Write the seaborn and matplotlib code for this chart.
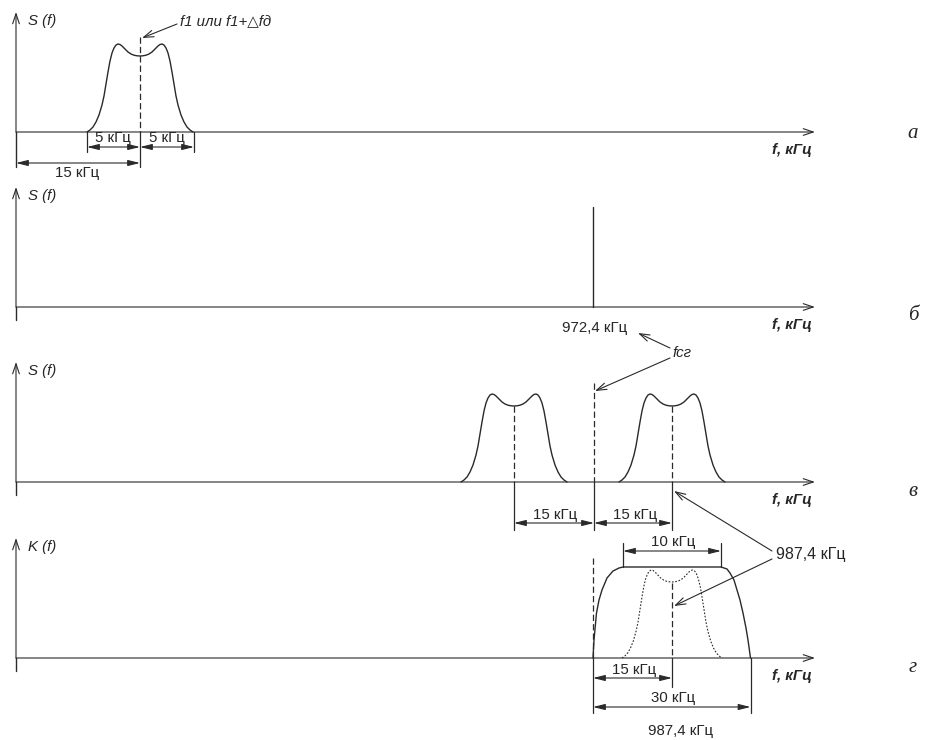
import numpy as np
import pandas as pd
import matplotlib
matplotlib.use("Agg")
import matplotlib.pyplot as plt
import seaborn as sns

sns.set_theme(style="white")
plt.rcParams['font.family'] = ['Liberation Sans', 'DejaVu Sans']

# drawing is in sheet units (1 unit = 1 px of the 930x740 sheet)
panel_names = ["а", "б", "в", "г"]
panel_ylabels = ["S (f)", "S (f)", "S (f)", "K (f)"]
baselines = [132, 307, 482, 658]
axis_x0 = 16
axis_x1 = 815

# half profile of the signal spectrum (offset from centre, height)
hump_dx = [-53, -50, -47, -44, -41, -38, -36, -34, -32, -30, -28, -26, -24, -22,
           -20, -18, -16, -14, -12, -9, -6, -3, 0]
hump_h = [0, 2, 5, 10, 17, 27, 36, 48, 60, 71, 79, 84, 87, 88,
          87.5, 86, 84, 82, 80, 78, 76.8, 76.2, 76]

# filter response K(f) (position, height)
filt_x = [593, 594, 596.5, 599, 602, 607, 613, 619, 623, 721, 727, 730, 734, 737, 740, 743, 746, 748, 750.5]
filt_h = [0, 18, 45, 58, 68, 80, 87, 90, 91, 91, 89, 85, 78, 68, 58, 45, 30, 18, 0]

# spectrum centres
centre_a = 140
centres_v = [514, 672]
centre_g = 672
f_geterodin = 593
carrier_h = 100

dim_labels = ["5 кГц", "15 кГц", "10 кГц", "30 кГц"]
freq_labels = ["972,4 кГц", "987,4 кГц"]

line_c = "#2a2a2a"
lw = 1.0
fs = 10.8


def hump(center, scale=1.0):
    dx = np.array(hump_dx) * scale
    h = np.array(hump_h)
    x = np.concatenate([center + dx, center - dx[::-1][1:]])
    y = np.concatenate([h, h[::-1][1:]])
    return x, y


def dim(ax, x0, x1, y, head="<|-|>"):
    ax.annotate("", xy=(x1, y), xytext=(x0, y),
                arrowprops=dict(arrowstyle=head + ",head_length=0.6,head_width=0.15",
                                color=line_c, lw=0.8, shrinkA=0, shrinkB=0))


def pointer(ax, x0, y0, x1, y1):
    ax.annotate("", xy=(x1, y1), xytext=(x0, y0),
                arrowprops=dict(arrowstyle="->,head_length=0.6,head_width=0.2",
                                color=line_c, lw=0.8, shrinkA=0, shrinkB=0))


def vline(ax, x, y0, y1, ls="-"):
    ax.plot([x, x], [y0, y1], color=line_c, lw=0.9, ls=ls,
            dashes=(5, 2.5) if ls == "--" else (None, None))


fig = plt.figure(figsize=(9.3, 7.4), dpi=100)
ax = fig.add_axes([0, 0, 1, 1])
ax.set_xlim(0, 930)
ax.set_ylim(740, 0)
ax.axis("off")

for i, b in enumerate(baselines):
    # axes of every panel
    bottom = b + 35 if i == 0 else b + 13
    ax.plot([axis_x0, axis_x0], [bottom, b], color=line_c, lw=lw)
    pointer(ax, axis_x0, b, axis_x0, b - 120)
    pointer(ax, axis_x0, b, axis_x1, b)
    ax.text(28, b - 111, panel_ylabels[i], fontsize=fs, style="italic", va="center", ha="left")
    ax.text(792, b + 18, "f, кГц", fontsize=fs, style="italic", weight="bold",
            va="center", ha="center")
    ax.text(913, b + 1 if i == 0 else b + 9, panel_names[i], fontsize=15, style="italic",
            family=["Liberation Serif", "DejaVu Serif"], va="center", ha="center")

# panel а
b = baselines[0]
x, h = hump(centre_a)
sns.lineplot(x=x, y=b - h, ax=ax, color=line_c, lw=lw, sort=False, estimator=None)
vline(ax, centre_a, b - 95, b, "--")
vline(ax, centre_a, b, b + 35)
vline(ax, centre_a - 53, b, b + 20)
vline(ax, centre_a + 54, b, b + 20)
dim(ax, centre_a - 53, centre_a, b + 15)
dim(ax, centre_a, centre_a + 54, b + 15)
dim(ax, axis_x0, centre_a, b + 31)
ax.text(113, b + 6, dim_labels[0], fontsize=fs, ha="center", va="center")
ax.text(167, b + 6, dim_labels[0], fontsize=fs, ha="center", va="center")
ax.text(77, b + 41, dim_labels[1], fontsize=fs, ha="center", va="center")
ax.text(180, 21, "f1 или f1+△fд", fontsize=fs, style="italic", ha="left", va="center")
pointer(ax, 177, 24, 142, 38)

# panel б
b = baselines[1]
ax.plot([f_geterodin, f_geterodin], [b, b - carrier_h], color=line_c, lw=lw)
ax.text(595, b + 21, freq_labels[0], fontsize=fs, ha="center", va="center")
ax.text(672, b + 46, "fсг", fontsize=fs, style="italic", ha="left", va="center")
pointer(ax, 670, b + 41, 638, b + 26)
pointer(ax, 670, b + 51, 595, b + 84)

# panel в
b = baselines[2]
for c in centres_v:
    x, h = hump(c)
    sns.lineplot(x=x, y=b - h, ax=ax, color=line_c, lw=lw, sort=False, estimator=None)
    vline(ax, c, b - 76, b, "--")
    vline(ax, c, b, b + 48)
vline(ax, f_geterodin + 1, b - 99, b, "--")
vline(ax, f_geterodin + 1, b, b + 48)
dim(ax, centres_v[0], f_geterodin + 1, b + 41)
dim(ax, f_geterodin + 1, centres_v[1], b + 41)
ax.text(555, b + 33, dim_labels[1], fontsize=fs, ha="center", va="center")
ax.text(635, b + 33, dim_labels[1], fontsize=fs, ha="center", va="center")

# panel г
b = baselines[3]
sns.lineplot(x=filt_x, y=b - np.array(filt_h), ax=ax, color=line_c, lw=lw,
             sort=False, estimator=None)
x, h = hump(centre_g, 50 / 53)
ax.plot(x, b - h, color=line_c, lw=0.8, ls=(0, (1.5, 1.5)))
vline(ax, centre_g, b - 75, b, "--")
vline(ax, centre_g, b, b + 29)
vline(ax, f_geterodin, b - 100, b, "--")
vline(ax, f_geterodin, b, b + 55)
vline(ax, filt_x[-1], b, b + 55)
vline(ax, filt_x[8], b - 91, b - 115)
vline(ax, filt_x[9], b - 91, b - 115)
dim(ax, filt_x[8], filt_x[9], b - 107)
dim(ax, f_geterodin, centre_g, b + 20)
dim(ax, f_geterodin, filt_x[-1], b + 49)
ax.text(673, b - 116, dim_labels[2], fontsize=fs, ha="center", va="center")
ax.text(634, b + 12, dim_labels[1], fontsize=fs, ha="center", va="center")
ax.text(673, b + 40, dim_labels[3], fontsize=fs, ha="center", va="center")
ax.text(681, b + 73, freq_labels[1], fontsize=fs, ha="center", va="center")
ax.text(776, b - 104, freq_labels[1], fontsize=11.5, ha="left", va="center")
pointer(ax, 772, b - 107, 674, baselines[2] + 9)
pointer(ax, 772, b - 99, 674, b - 52)

fig.savefig("out.png", dpi=100, facecolor="white")
